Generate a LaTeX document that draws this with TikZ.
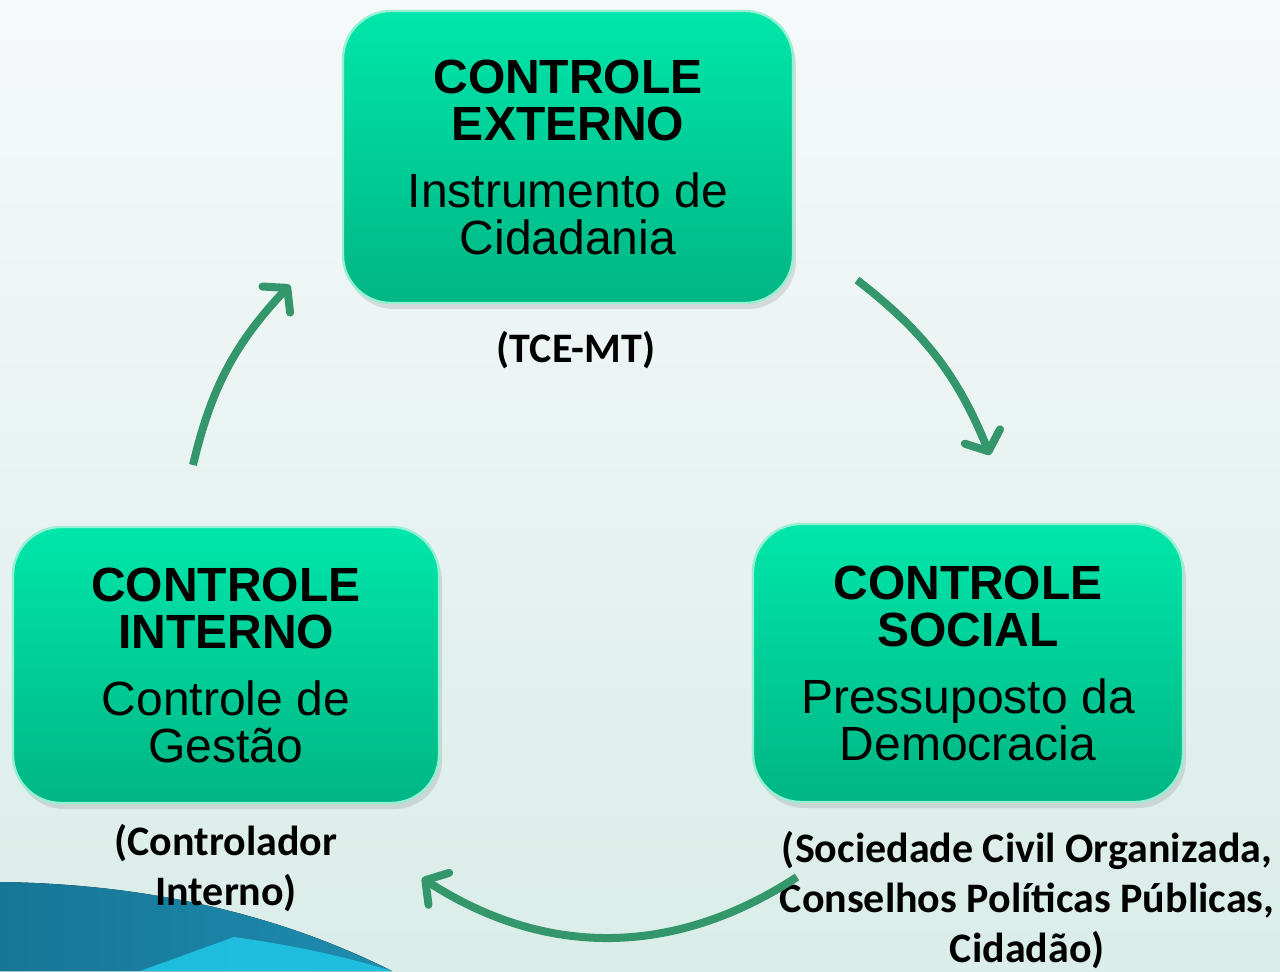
\documentclass[tikz,border=0pt]{standalone}
\usepackage{fontspec}
\setmainfont{Liberation Sans}
\newfontfamily\lblfont{Carlito}
\usetikzlibrary{arrows.meta,shadows}

\definecolor{boxtop}{RGB}{0,230,170}
\definecolor{boxbottom}{RGB}{0,182,132}
\definecolor{boxrim}{RGB}{150,240,210}
\definecolor{arrowgreen}{RGB}{52,150,107}
\definecolor{bgtop}{RGB}{246,249,250}
\definecolor{bgbottom}{RGB}{218,237,232}
\definecolor{wavedark}{RGB}{22,118,150}
\definecolor{wavemid}{RGB}{30,140,175}
\definecolor{wavelight}{RGB}{32,200,232}

\tikzset{
  cbox/.style={rectangle, rounded corners=24pt, top color=boxtop,
    bottom color=boxbottom, draw=boxrim, line width=1.2pt, align=center,
    font=\fontsize{24}{23.5}\selectfont,
    drop shadow={opacity=0.22, shadow xshift=1.5pt, shadow yshift=-3pt}},
  clabel/.style={align=center, font=\lblfont\bfseries\fontsize{21}{25}\selectfont},
  cycarrow/.style={draw=arrowgreen, line width=4pt,
    -{Straight Barb[length=8pt,width=19pt,round]}}
}

\begin{document}
\begin{tikzpicture}[x=0.5pt,y=-0.5pt]

  % background and wave
  \fill[top color=bgtop, bottom color=bgbottom] (0,0) rectangle (1280,971);
  \useasboundingbox (0,0) rectangle (1280,971);
  \fill[left color=wavedark, right color=wavemid]
    (0,882) .. controls (150,884) and (280,915) .. (392,971) -- (0,971) -- cycle;
  \fill[wavelight, opacity=.85]
    (140,971) -- (234,937) .. controls (290,945) and (340,955) .. (392,971) -- cycle;

  \begin{scope}[every node/.style={cbox}]
    \node[minimum width=225pt, minimum height=146pt] (ext) at (568,157)
      {\textbf{CONTROLE}\\\textbf{EXTERNO}\\[10pt]Instrumento de\\Cidadania};
    \node[minimum width=213pt, minimum height=138pt] (int) at (226,665)
      {\textbf{CONTROLE}\\\textbf{INTERNO}\\[10pt]Controle de\\Gestão};
    \node[minimum width=215pt, minimum height=139pt] (soc) at (968,663)
      {\textbf{CONTROLE}\\\textbf{SOCIAL}\\[10pt]Pressuposto da\\Democracia};
  \end{scope}

  \begin{scope}[every node/.style={clabel}]
    \node (tce) at (576,350) {(TCE-MT)};
    \node (ctl) at (226,868) {(Controlador\\Interno)};
    \node (civ) at (1027,900) {(Sociedade Civil Organizada,\\Conselhos Políticas Públicas,\\Cidadão)};
  \end{scope}

  \coordinate (e1) at (857,280);
  \coordinate (s1) at (990,455);
  \coordinate (s2) at (797,877);
  \coordinate (i2) at (422,878);
  \coordinate (i3) at (193,465);
  \coordinate (e3) at (290,285);

  \path (e1) edge[cycarrow, bend left=15] (s1);
  \path (s2) edge[cycarrow, bend left=33] (i2);
  \path (i3) edge[cycarrow, bend left=15] (e3);

\end{tikzpicture}
\end{document}
